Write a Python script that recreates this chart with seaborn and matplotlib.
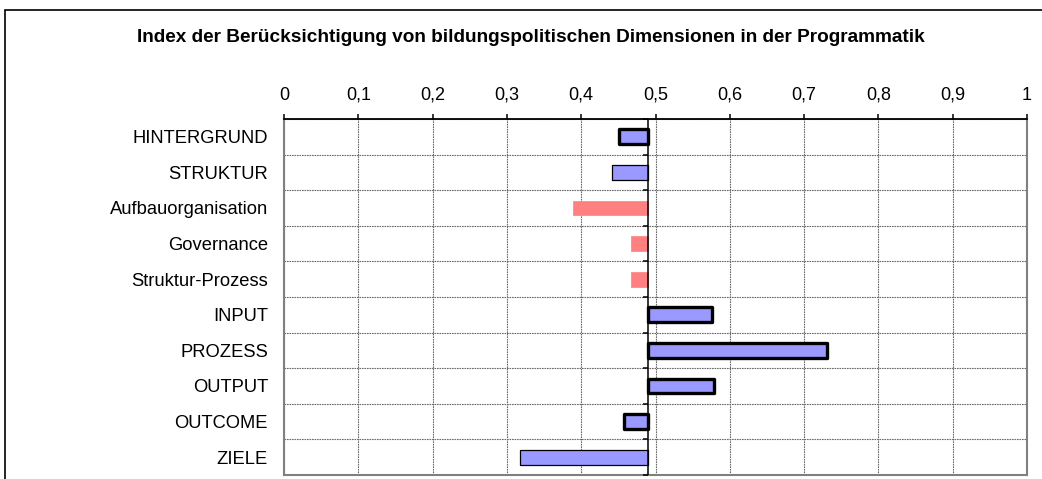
import matplotlib
matplotlib.use("Agg")
import matplotlib.pyplot as plt
from matplotlib.patches import Rectangle
from matplotlib.ticker import FuncFormatter
import seaborn as sns
import pandas as pd
import numpy as np

categories = ["HINTERGRUND", "STRUKTUR", "Aufbauorganisation", "Governance",
              "Struktur-Prozess", "INPUT", "PROZESS", "OUTPUT", "OUTCOME", "ZIELE"]
values = [0.451, 0.442, 0.389, 0.467, 0.467, 0.576, 0.731, 0.579, 0.457, 0.318]
fill_colors = ["#9999FF", "#9999FF", "#FF8080", "#FF8080", "#FF8080",
               "#9999FF", "#9999FF", "#9999FF", "#9999FF", "#9999FF"]
border_styles = ["thick", "thin", "none", "none", "none",
                 "thick", "thick", "thick", "thick", "thin"]
baseline = 0.49
x_ticks = [0, 0.1, 0.2, 0.3, 0.4, 0.5, 0.6, 0.7, 0.8, 0.9, 1.0]
title = "Index der Berücksichtigung von bildungspolitischen Dimensionen in der Programmatik"

sns.set_theme(style="white")
plt.rcParams["font.family"] = ["Liberation Sans", "DejaVu Sans"]

W, H = 1042, 479
fig = plt.figure(figsize=(W / 100, H / 100), dpi=100)
ax = fig.add_axes([284 / W, 1 - 475 / H, (1027 - 284) / W, (475 - 119) / H])

df = pd.DataFrame({"cat": categories, "val": values})
palette = dict(zip(categories, fill_colors))
sns.barplot(data=df, y="cat", x="val", hue="cat", palette=palette, orient="h",
            width=0.42, legend=False, ax=ax, saturation=1)

for p, v, b, c in zip(ax.patches, values, border_styles, fill_colors):
    p.set_x(baseline)
    p.set_width(v - baseline)
    if b == "thick":
        p.set_edgecolor("black"); p.set_linewidth(2.4)
    elif b == "thin":
        p.set_edgecolor("black"); p.set_linewidth(0.9)
    else:
        p.set_edgecolor(c); p.set_linewidth(0.5)
    p.set_joinstyle("round")
    p.set_zorder(3)

n = len(categories)
ax.set_xlim(0, 1)
ax.set_ylim(n - 0.5, -0.5)
ax.set_xlabel(""); ax.set_ylabel("")

# grid
for xv in x_ticks:
    ax.axvline(xv, color="#6a6a6a", lw=0.8, ls=(0, (1.5, 0.75)), zorder=1)
bounds = np.arange(n + 1) - 0.5
for yv in bounds:
    ax.axhline(yv, color="#6a6a6a", lw=0.8, ls=(0, (1.5, 0.75)), zorder=1)

# value axis at baseline
ax.axvline(baseline, color="black", lw=1.1, zorder=4)
ax.plot([baseline] * len(bounds), bounds, marker=0, markersize=3.6,
        markeredgewidth=1.1, color="black", ls="none", zorder=4, clip_on=False)

# x axis on top
ax.xaxis.set_ticks_position("top")
ax.xaxis.set_label_position("top")
ax.set_xticks(x_ticks)
ax.xaxis.set_major_formatter(FuncFormatter(lambda v, _: ("%g" % v).replace(".", ",")))
ax.tick_params(axis="x", which="major", direction="out", length=3.6, width=1.1,
               color="black", pad=7.3, labelsize=13, labelcolor="black", top=True, bottom=False)
ax.tick_params(axis="y", length=0, pad=11.5, labelsize=13.2, labelcolor="black")

for s in ["left", "right", "bottom"]:
    ax.spines[s].set_color("#808080")
    ax.spines[s].set_linewidth(1.5)
    ax.spines[s].set_visible(True)
ax.spines["top"].set_color("black")
ax.spines["top"].set_linewidth(1.3)

fig.text(531 / W, 1 - 37 / H, title, ha="center", va="center",
         fontsize=13.7, fontweight="bold", color="black")

frame = Rectangle((4.5 / W, -0.2), 1.2, 1.2 - 9.5 / H, transform=fig.transFigure,
                  fill=False, edgecolor="black", lw=1.2, clip_on=False)
fig.patches.append(frame)

fig.savefig("out.png", dpi=100)
